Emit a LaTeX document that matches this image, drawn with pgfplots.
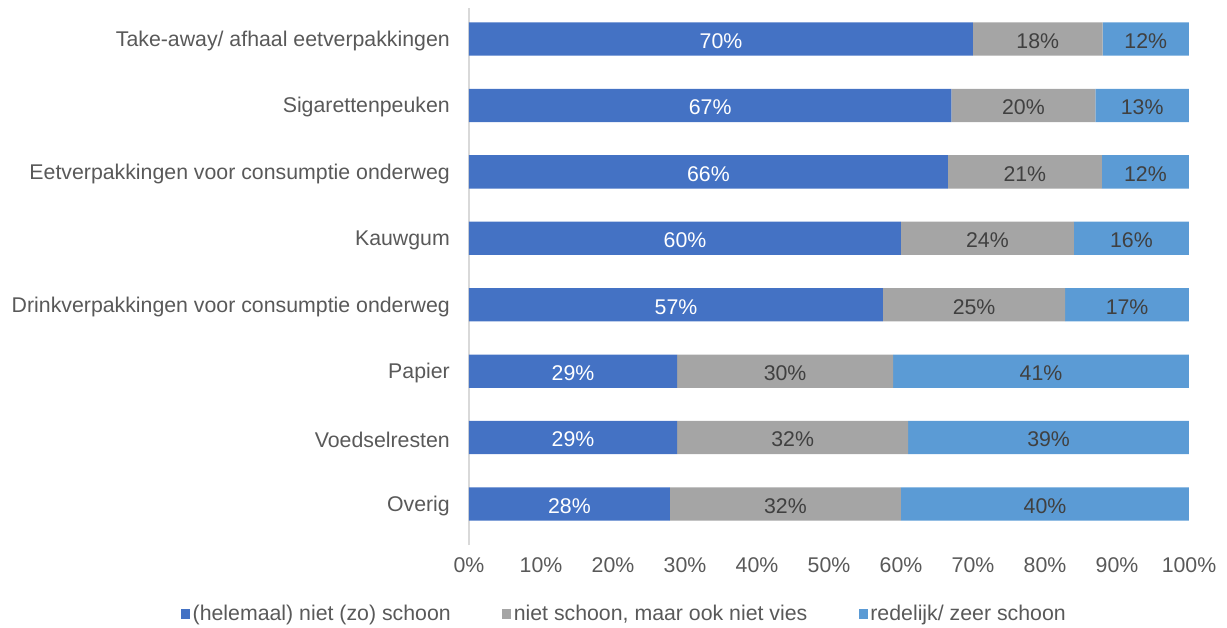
\documentclass[border=0pt]{standalone}
\usepackage{fontspec}
\setmainfont{Liberation Sans}
\usepackage{pgfplots}
\usepackage{pgfplotstable}
\pgfplotsset{compat=1.18}
\definecolor{cA}{HTML}{4472C4}
\definecolor{cB}{HTML}{A5A5A5}
\definecolor{cC}{HTML}{5B9BD5}
\definecolor{txt}{HTML}{595959}
\definecolor{lbl}{HTML}{404040}
\definecolor{axl}{HTML}{D9D9D9}

\pgfplotstableread{
y a b c la lb lc
0 27.9 32.1 40.0 28 32 40
1 28.9 32.1 39.0 29 32 39
2 28.9 30.0 41.1 29 30 41
3 57.5 25.3 17.2 57 25 17
4 60.0 24.0 16.0 60 24 16
5 66.5 21.4 12.1 66 21 12
6 67.0 20.0 13.0 67 20 13
7 70.0 18.0 12.0 70 18 12
}\data

\begin{document}
\begin{tikzpicture}[font=\fontsize{21.3}{25}\selectfont]
\path[use as bounding box] (-469pt,-82pt) rectangle (758pt,545pt);
\begin{axis}[at={(0,0)}, anchor=south west, scale only axis,
  width=720pt, height=537pt,
  xbar stacked, bar width=33.3pt,
  xmin=0, xmax=100, ymin=-0.617, ymax=7.467,
  xtick={0,10,...,100},
  xticklabels={0\%,10\%,20\%,30\%,40\%,50\%,60\%,70\%,80\%,90\%,100\%},
  ytick={0,...,7},
  yticklabels={Overig,Voedselresten,Papier,Drinkverpakkingen voor consumptie onderweg,Kauwgum,Eetverpakkingen voor consumptie onderweg,Sigarettenpeuken,Take-away/ afhaal eetverpakkingen},
  major tick length=0pt,
  axis lines=left, axis line style={-},
  x axis line style={draw=none},
  y axis line style={draw=axl, line width=1.2pt},
  tick label style={text=txt, font=\fontsize{21.3}{25}\selectfont},
  yticklabel style={anchor=east, inner sep=0pt, xshift=-19pt, yshift=-2pt},
  xticklabel style={anchor=center, inner sep=0pt, yshift=-20pt},
  point meta=explicit symbolic,
  nodes near coords={\pgfplotspointmeta\%},
  nodes near coords style={anchor=center, yshift=-2pt, font=\fontsize{21.3}{25}\selectfont},
  legend columns=3,
  legend style={at={(-0.4,-0.1285)}, anchor=west, draw=none, fill=none,
    text=txt, font=\fontsize{21.3}{25}\selectfont, inner sep=0pt,
    /tikz/every even column/.append style={column sep=49pt},
    nodes={inner xsep=2.5pt, inner ysep=0pt}},
  legend cell align=left,
  legend image code/.code={\fill[#1] (0pt,-5pt) rectangle (9pt,5pt);},
]
\addplot[fill=cA, draw=none,
  every node near coord/.append style={text=white}]
  table[x=a, y=y, meta=la] {\data};
\addplot[fill=cB, draw=none,
  every node near coord/.append style={text=lbl}]
  table[x=b, y=y, meta=lb] {\data};
\addplot[fill=cC, draw=none,
  every node near coord/.append style={text=lbl}]
  table[x=c, y=y, meta=lc] {\data};
\legend{(helemaal) niet (zo) schoon, niet schoon{,} maar ook niet vies, redelijk/ zeer schoon}
\end{axis}
\end{tikzpicture}
\end{document}
